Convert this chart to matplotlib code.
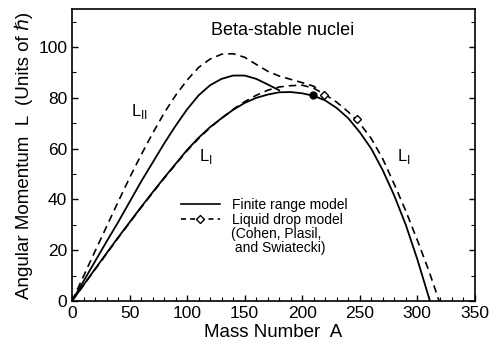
import matplotlib.pyplot as plt
from matplotlib.lines import Line2D
from matplotlib.ticker import MultipleLocator

# finite range model, L_I branch (and the merged falling part)
fr_A = [0, 10, 20, 30, 40, 50, 60, 70, 80, 90, 100, 110, 120, 130, 140, 150, 160,
        170, 180, 190, 200, 210, 220, 230, 240, 250, 260, 270, 280, 290, 300, 305, 311]
fr_L = [0, 6.3, 12.6, 18.8, 25, 31, 37, 42.8, 48.5, 54, 59.5, 64.3, 68.5, 72, 75.3, 78, 80,
        81.3, 82.2, 82.3, 81.8, 80.8, 79, 76, 72, 66.5, 60, 51.5, 41.5, 30, 16.5, 9, 0]
# finite range model, L_II branch
fr2_A = [0, 10, 20, 30, 40, 50, 60, 70, 80, 90, 100, 110, 120, 130, 140, 150, 160, 170, 180]
fr2_L = [0, 7.8, 15.6, 23.4, 31, 39, 47, 54.5, 62, 69, 75.5, 81, 85, 87.5, 88.8, 88.8, 87.5, 85.3, 83]

# liquid drop model, L_I branch
ld_A = [0, 10, 20, 30, 40, 50, 60, 70, 80, 90, 100, 110, 120, 130, 140, 150, 160, 170, 180,
        190, 200, 210, 220, 230, 240, 250, 260, 270, 280, 290, 300, 310, 319]
ld_L = [0, 6.2, 12.4, 18.6, 24.8, 30.8, 36.8, 42.6, 48.3, 53.8, 59.2, 64, 68.3, 72, 75.5, 78.5,
        81, 83, 84.3, 84.8, 85, 83.8, 81.3, 78.3, 74.5, 70, 64, 56, 46, 35.5, 24, 12, 0]
# liquid drop model, L_II branch
ld2_A = [0, 10, 20, 30, 40, 50, 60, 70, 80, 90, 100, 110, 120, 130, 140, 150, 160, 170, 180,
         190, 200, 210, 215]
ld2_L = [0, 9.8, 19.6, 29.3, 39, 48.5, 57.5, 66, 74, 81, 87, 92, 95.3, 97.2, 97.4, 96, 93.2,
         90.5, 88.6, 87.3, 86, 84.6, 83]

# marked points
dot_A, dot_L = [209], [81]
dia_A, dia_L = [219, 248], [81.2, 71.5]

plt.rcParams['font.family'] = ['Liberation Sans', 'DejaVu Sans']

fig = plt.figure(figsize=(4.9, 3.47), dpi=100)
ax = fig.add_axes([0.147, 0.1326, 0.822, 0.8414])

dash = (0, (4.5, 3))
ax.plot(fr_A, fr_L, color='black', lw=1.3)
ax.plot(fr2_A, fr2_L, color='black', lw=1.3)
ax.plot(ld_A, ld_L, color='black', lw=1.2, linestyle=dash)
ax.plot(ld2_A, ld2_L, color='black', lw=1.2, linestyle=dash)
ax.plot(dot_A, dot_L, 'o', color='black', ms=5)
ax.plot(dia_A, dia_L, 'D', mfc='white', mec='black', ms=4.5, mew=1)

ax.set_xlim(0, 350)
ax.set_ylim(0, 115)
ax.xaxis.set_major_locator(MultipleLocator(50))
ax.xaxis.set_minor_locator(MultipleLocator(10))
ax.yaxis.set_major_locator(MultipleLocator(20))
ax.yaxis.set_minor_locator(MultipleLocator(10))
ax.tick_params(which='both', direction='in', right=True, labelsize=12.5)
ax.tick_params(which='major', length=4, width=1)
ax.tick_params(which='minor', length=3, width=0.8)
for s in ax.spines.values():
    s.set_linewidth(1.2)

ax.set_xlabel('Mass Number  A', fontsize=13.5, labelpad=2)
ax.set_ylabel('Angular Momentum  L  (Units of \u210f)', fontsize=13.5, labelpad=4)

ax.text(0.524, 0.928, 'Beta-stable nuclei', transform=ax.transAxes, ha='center',
        va='center', fontsize=13)
ax.text(59, 74.5, r'L$_{\rm II}$', fontsize=12, ha='center', va='center')
ax.text(116, 57, r'L$_{\rm I}$', fontsize=12, ha='center', va='center')
ax.text(288, 57, r'L$_{\rm I}$', fontsize=12, ha='center', va='center')

handles = [Line2D([], [], color='black', lw=1.2),
           Line2D([], [], color='black', lw=1.2, linestyle=(0, (3, 2.5)),
                  marker='D', mfc='white', mec='black', ms=4, markevery=[1])]
handles[1].set_xdata([0, 0.5, 1])
leg = ax.legend(handles, ['Finite range model', 'Liquid drop model'],
                loc='upper left', bbox_to_anchor=(0.27, 0.352), frameon=False,
                fontsize=10, handlelength=2.8, handletextpad=0.9, labelspacing=0.05,
                borderpad=0, borderaxespad=0)
ax.text(0.395, 0.206, '(Cohen, Plasil,\n and Swiatecki)', transform=ax.transAxes,
        fontsize=10, va='center', ha='left', linespacing=1.05)

fig.savefig('out.png', dpi=100)
